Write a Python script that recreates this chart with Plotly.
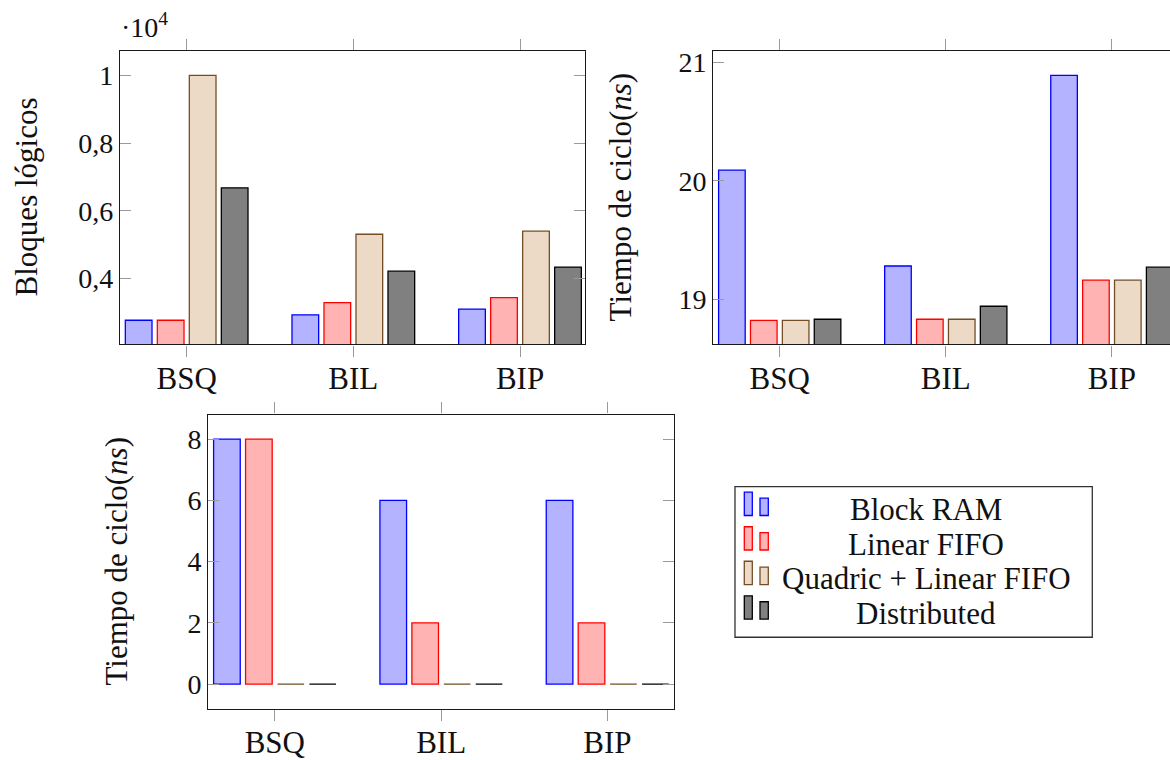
import plotly.graph_objects as go

# Memory layouts on the category axis
categories = ["BSQ", "BIL", "BIP"]
series_names = ["Block RAM", "Linear FIFO", "Quadric + Linear FIFO", "Distributed"]

# Bloques lógicos (one list per memory implementation, ordered like categories)
logic_block_ram = [2770, 2930, 3100]
logic_linear_fifo = [2770, 3290, 3440]
logic_quadric_fifo = [10000, 5310, 5400]
logic_distributed = [6680, 4220, 4340]

# Tiempo de ciclo (ns), upper right panel
cycle_block_ram = [20.09, 19.28, 20.89]
cycle_linear_fifo = [18.82, 18.83, 19.16]
cycle_quadric_fifo = [18.82, 18.83, 19.16]
cycle_distributed = [18.83, 18.94, 19.27]

# Tiempo de ciclo (ns), lower panel
cycle2_block_ram = [8, 6, 6]
cycle2_linear_fifo = [8, 2, 2]
cycle2_quadric_fifo = [0, 0, 0]
cycle2_distributed = [0, 0, 0]

# Tick values and labels
logic_tickvals = [4000, 6000, 8000, 10000]
logic_ticktext = ["0,4", "0,6", "0,8", "1"]
cycle_tickvals = [19, 20, 21]
cycle2_tickvals = [0, 2, 4, 6, 8]

W, H = 1170, 760
FONT = "Liberation Serif"
FS = 31       # titles, category labels, legend
FS_NUM = 28   # numeric tick labels

fills = ["#B3B3FF", "#FFB3B3", "#ECD9C6", "#808080"]
edges = ["#0000FF", "#FF0000", "#734D26", "#000000"]


def px(x):
    return x / W


def py(y):
    return 1 - y / H


panels = [
    ("x", "y", [logic_block_ram, logic_linear_fifo, logic_quadric_fifo, logic_distributed]),
    ("x2", "y2", [cycle_block_ram, cycle_linear_fifo, cycle_quadric_fifo, cycle_distributed]),
    ("x3", "y3", [cycle2_block_ram, cycle2_linear_fifo, cycle2_quadric_fifo, cycle2_distributed]),
]

fig = go.Figure()
for xa, ya, series in panels:
    for name, vals, fc, ec in zip(series_names, series, fills, edges):
        fig.add_trace(go.Bar(
            x=categories, y=vals, name=name, xaxis=xa, yaxis=ya,
            marker=dict(color=fc, line=dict(color=ec, width=1.3)),
            offsetgroup=name, showlegend=False, hoverinfo="skip",
        ))

axis_common = dict(
    showline=True, linecolor="#1a1a1a", linewidth=1.3,
    showgrid=False, zeroline=False,
    tickcolor="#9a9a9a", tickwidth=1, ticklen=11,
)
xcommon = dict(axis_common, ticks="outside", mirror="allticks", type="category",
               ticklabelstandoff=-5,
               tickfont=dict(family=FONT, size=FS, color="#111"))
ycommon = dict(axis_common, ticks="inside", ticklabelstandoff=0,
               tickfont=dict(family=FONT, size=FS_NUM, color="#111"))

# Geometry in pixels: (left, right, top, bottom)
p1 = (120, 585, 47.7, 345)
p2 = (713.3, 1170, 47.7, 345)
p3 = (208.3, 674, 416, 714)
pitch = 465 / 2.8

fig.update_layout(
    width=W, height=H, margin=dict(l=0, r=0, t=0, b=0),
    paper_bgcolor="white", plot_bgcolor="white",
    barmode="group", bargap=0.232, bargroupgap=0.166,
    font=dict(family=FONT, size=FS, color="#111"),
    xaxis=dict(xcommon, domain=[px(p1[0]), px(p1[1])], range=[-0.4, 2.39], anchor="y"),
    yaxis=dict(ycommon, domain=[py(p1[3]), py(p1[2])], range=[2055, 10720], anchor="x",
               mirror="allticks", tickvals=logic_tickvals, ticktext=logic_ticktext),
    xaxis2=dict(xcommon, domain=[px(p2[0]), 1.0],
                range=[-0.4, -0.4 + (p2[1] - p2[0]) / pitch], anchor="y2"),
    yaxis2=dict(ycommon, domain=[py(p2[3]), py(p2[2])], range=[18.617, 21.096], anchor="x2",
                mirror=False, tickvals=cycle_tickvals),
    xaxis3=dict(xcommon, domain=[px(p3[0]), px(p3[1])], range=[-0.4, 2.4], anchor="y3"),
    yaxis3=dict(ycommon, domain=[py(p3[3]), py(p3[2])], range=[-0.8, 8.8], anchor="x3",
                mirror="allticks", tickvals=cycle2_tickvals),
)


def note(text, x, y, size=FS, **kw):
    d = dict(text=text, x=px(x), y=py(y), xref="paper", yref="paper",
             showarrow=False, font=dict(family=FONT, size=size, color="#111"))
    d.update(kw)
    return d


annotations = [
    note("·10<sup>4</sup>", 119, 42, size=FS_NUM, xanchor="left", yanchor="bottom"),
    note("Bloques lógicos", 26, 196, textangle=-90, xanchor="center", yanchor="middle"),
    note("Tiempo de ciclo(<i>ns</i>)", 620, 196, textangle=-90, xanchor="center", yanchor="middle"),
    note("Tiempo de ciclo(<i>ns</i>)", 117, 565, textangle=-90, xanchor="center", yanchor="middle"),
]

# Legend box drawn by hand: two small bars per entry, then the series name
shapes = [dict(type="rect", xref="paper", yref="paper",
               x0=px(735), x1=px(1092.3), y0=py(641.7), y1=py(489),
               line=dict(color="#333", width=1.3), fillcolor="white", layer="above")]
row_pitch = 35
for i, (name, fc, ec) in enumerate(zip(series_names, fills, edges)):
    bottom = 518.3 + i * row_pitch
    shapes.append(dict(type="rect", xref="paper", yref="paper",
                       x0=px(744.3), x1=px(752.3), y0=py(bottom), y1=py(bottom - 23.6),
                       fillcolor=fc, line=dict(color=ec, width=1.3), layer="above"))
    shapes.append(dict(type="rect", xref="paper", yref="paper",
                       x0=px(760), x1=px(768.3), y0=py(bottom), y1=py(bottom - 17.6),
                       fillcolor=fc, line=dict(color=ec, width=1.3), layer="above"))
    annotations.append(note(name, 926, 512.5 + i * row_pitch, xanchor="center", yanchor="middle"))

fig.update_layout(annotations=annotations, shapes=shapes)
fig.write_html("out.html")
